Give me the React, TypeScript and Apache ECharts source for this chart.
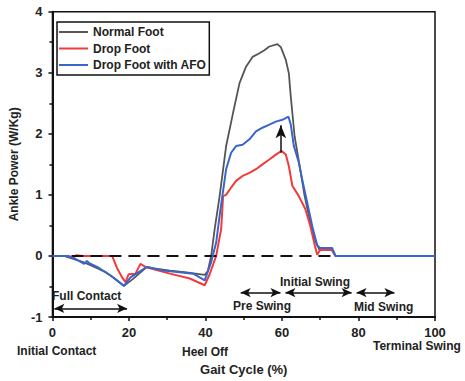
import React, { useEffect, useRef } from "react";
import * as echarts from "echarts";

const seriesNames = ["Normal Foot", "Drop Foot", "Drop Foot with AFO"];

const normalFoot: [number, number][] = [
  [0, 0], [3, 0], [5, -0.04], [8, -0.1], [11.7, -0.2], [14, -0.27], [16.1, -0.36], [18.7, -0.49],
  [21, -0.38], [24.7, -0.18], [27, -0.21], [30.7, -0.24], [35, -0.27], [39.8, -0.31], [40.6, -0.25],
  [41.5, 0], [42.4, 0.44], [43.7, 0.98], [45.4, 1.8], [47.2, 2.34], [48.9, 2.83], [50.6, 3.1],
  [52.3, 3.26], [54.1, 3.32], [55.4, 3.37], [56.7, 3.43], [58.8, 3.47], [59.7, 3.42], [61, 3.21],
  [61.8, 2.99], [62.3, 2.61], [63.3, 1.96], [64.6, 1.48], [65.9, 0.99], [67.2, 0.61], [68.5, 0.28],
  [69.8, 0.1], [70.5, 0.1], [73, 0.1], [74, 0], [100, 0],
];

const dropFoot: [number, number][] = [
  [0, 0], [4, 0], [5.5, -0.03], [6.2, 0.01], [8, 0], [15.6, 0], [16.9, -0.2], [18.2, -0.35],
  [19.1, -0.43], [19.9, -0.3], [21.7, -0.29], [23, -0.13], [24.3, -0.18], [30.7, -0.29],
  [35.9, -0.37], [39.8, -0.48], [41.1, -0.3], [42.8, 0], [44.1, 0.44], [44.6, 0.98], [45.4, 1.0],
  [46.7, 1.12], [48, 1.23], [49.7, 1.31], [51.5, 1.36], [53.2, 1.42], [54.9, 1.5], [56.7, 1.58],
  [58.4, 1.66], [59.9, 1.72], [61, 1.66], [61.8, 1.47], [62.7, 1.15], [64.4, 0.98], [66.1, 0.77],
  [67.4, 0.49], [68.6, 0.17], [69.2, 0.02], [70, 0.1], [73, 0.1], [74, 0], [100, 0],
];

const dropFootAFO: [number, number][] = [
  [0, 0], [4, 0], [6, -0.05], [8.3, -0.13], [9, -0.08], [9.6, -0.12], [11.7, -0.18], [15.2, -0.32],
  [18.7, -0.49], [20.4, -0.35], [24.7, -0.18], [29, -0.24], [36.8, -0.29], [39.8, -0.4],
  [41.5, -0.1], [42.8, 0.22], [43.7, 0.66], [45.4, 1.42], [46.7, 1.69], [48, 1.8], [49.7, 1.82],
  [51.5, 1.91], [53.2, 2.04], [54.9, 2.1], [56.7, 2.15], [58.4, 2.2], [60.1, 2.23], [61.7, 2.28],
  [62.3, 2.15], [63.1, 1.8], [64.4, 1.53], [65.3, 1.25], [66.6, 0.87], [67.9, 0.49], [69.2, 0.17],
  [70, 0.13], [73.1, 0.13], [74, 0], [100, 0],
];

// phase arrows: [xStart, xEnd, y]
const phaseArrows: [number, number, number][] = [
  [0.5, 19.5, -0.86],
  [49.2, 59.6, -0.6],
  [60.9, 78.2, -0.6],
  [79.5, 89.4, -0.6],
];
// improvement arrow: [x, yStart, yEnd]
const upArrow: [number, number, number] = [59.7, 1.69, 2.14];

const FONT = "'Liberation Sans', Arial, Helvetica, sans-serif";
const colors = ["#555555", "#f23a3a", "#3866cc"];

export default function App() {
  const ref = useRef<HTMLDivElement>(null);
  useEffect(() => {
    if (!ref.current) return;
    const chart = echarts.init(ref.current, undefined, { renderer: "svg" });
    const textStyle = (text: string) => ({
      text,
      fontSize: 12,
      fontWeight: "bold",
      fontFamily: FONT,
      fill: "#222",
    });
    chart.setOption({
      animation: false,
      backgroundColor: "#fff",
      textStyle: { fontFamily: FONT },
      grid: {
        left: 48.5,
        right: 30,
        top: 11.7,
        bottom: 61.7,
        show: true,
        borderColor: "#111",
        borderWidth: 1.5,
        backgroundColor: "transparent",
      },
      legend: {
        data: seriesNames.map((n) => ({ name: n, icon: "rect" })),
        orient: "vertical",
        left: 57,
        top: 22,
        padding: [3, 3, 3, 2],
        itemGap: 2.5,
        itemWidth: 29,
        itemHeight: 2,
        borderColor: "#111",
        borderWidth: 1.5,
        backgroundColor: "#fff",
        textStyle: { fontSize: 12, fontWeight: "bold", color: "#222", fontFamily: FONT, lineHeight: 14 },
      },
      xAxis: {
        type: "value",
        min: 0,
        max: 100,
        interval: 20,
        name: "Gait Cycle (%)",
        nameLocation: "middle",
        nameGap: 46,
        nameTextStyle: { fontSize: 13, fontWeight: "bold", color: "#222", fontFamily: FONT },
        axisLine: { show: true, onZero: false, lineStyle: { color: "#111", width: 2 } },
        axisTick: { show: true, inside: false, length: 4, lineStyle: { color: "#111", width: 1.5 } },
        minorTick: { show: true, splitNumber: 2, length: 3, lineStyle: { color: "#111", width: 1.5 } },
        axisLabel: { fontSize: 13, fontWeight: "bold", color: "#222", margin: 9, fontFamily: FONT },
        splitLine: { show: false },
      },
      yAxis: {
        type: "value",
        min: -1,
        max: 4,
        interval: 1,
        name: "Ankle Power (W/Kg)",
        nameLocation: "middle",
        nameGap: 27,
        nameTextStyle: { fontSize: 12, fontWeight: "bold", color: "#222", fontFamily: FONT },
        axisLine: { show: true, onZero: false, lineStyle: { color: "#111", width: 2 } },
        axisTick: { show: true, inside: false, length: 4, lineStyle: { color: "#111", width: 1.5 } },
        minorTick: { show: true, splitNumber: 2, length: 3, lineStyle: { color: "#111", width: 1.5 } },
        axisLabel: { fontSize: 13, fontWeight: "bold", color: "#222", margin: 10, fontFamily: FONT },
        splitLine: { show: false },
      },
      series: [
        {
          name: "annot",
          type: "line",
          data: [],
          silent: true,
          z: 1,
          markLine: {
            silent: true,
            animation: false,
            label: { show: false },
            symbol: ["none", "none"],
            lineStyle: { color: "#111", width: 2, type: [12, 7] },
            data: [{ yAxis: 0 }],
          },
        },
        ...seriesNames.map((name, i) => ({
          name,
          type: "line",
          data: [normalFoot, dropFoot, dropFootAFO][i],
          symbol: "none",
          z: 3 + i,
          lineStyle: { color: colors[i], width: i === 0 ? 1.8 : 2 },
          itemStyle: { color: colors[i] },
        })),
        {
          name: "arrows",
          type: "line",
          data: [],
          silent: true,
          z: 6,
          markLine: {
            silent: true,
            animation: false,
            label: { show: false },
            symbol: ["arrow", "arrow"],
            symbolSize: [7, 10],
            lineStyle: { color: "#111", width: 1.5, type: "solid" },
            data: [
              ...phaseArrows.map(([a, b, y]) => [{ coord: [a, y] }, { coord: [b, y] }]),
              [
                { coord: [upArrow[0], upArrow[1]], symbol: "none" },
                { coord: [upArrow[0], upArrow[2]], symbol: "arrow", symbolSize: [8, 13] },
              ],
            ],
          },
        },
      ],
      graphic: [
        { type: "text", left: 52, top: 290, style: textStyle("Full Contact") },
        { type: "text", left: 233, top: 300, style: textStyle("Pre Swing") },
        { type: "text", left: 280, top: 276, style: textStyle("Initial Swing") },
        { type: "text", left: 354, top: 301, style: textStyle("Mid Swing") },
        { type: "text", left: 17, top: 345, style: textStyle("Initial Contact") },
        { type: "text", left: 182, top: 346, style: textStyle("Heel Off") },
        { type: "text", left: 373, top: 340, style: textStyle("Terminal Swing") },
      ],
    });
    return () => chart.dispose();
  }, []);
  return <div ref={ref} style={{ width: 465, height: 381, position: "absolute", left: 0, top: 0 }} />;
}
